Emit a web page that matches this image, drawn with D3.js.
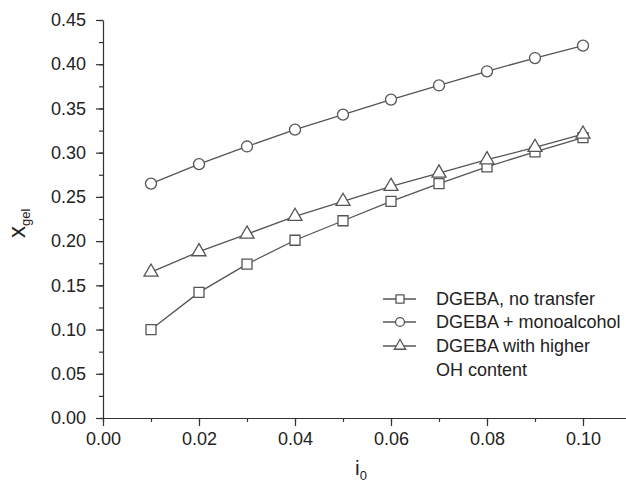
<!DOCTYPE html>
<html>
<head>
    <meta charset="utf-8" />
    <style>
        body { margin: 0; background: #fff; }
        svg { display: block; font-family: "Liberation Sans", Arial, sans-serif; }
    </style>
    <script src="https://d3js.org/d3.v7.min.js"></script>
</head>
<body>
<svg id="chart"></svg>
<script>

// data
let xValues = [0.01, 0.02, 0.03, 0.04, 0.05, 0.06, 0.07, 0.08, 0.09, 0.10];
let noTransfer = [0.100, 0.142, 0.174, 0.201, 0.223, 0.245, 0.265, 0.284, 0.301, 0.317];
let monoalcohol = [0.265, 0.287, 0.307, 0.326, 0.343, 0.360, 0.376, 0.392, 0.407, 0.421];
let higherOH = [0.165, 0.188, 0.208, 0.228, 0.245, 0.262, 0.277, 0.292, 0.306, 0.321];

let xTicks = [0.00, 0.02, 0.04, 0.06, 0.08, 0.10];
let yTicks = [0.00, 0.05, 0.10, 0.15, 0.20, 0.25, 0.30, 0.35, 0.40, 0.45];

let seriesNames = ["DGEBA, no transfer", "DGEBA + monoalcohol", "DGEBA with higher"];
let seriesValues = [noTransfer, monoalcohol, higherOH];
let seriesSymbols = ["square", "circle", "triangle"];

let W = 626, H = 485;
let lineColor = "#555";

let svg = d3.select("#chart").attr("width", W).attr("height", H);

let x = d3.scaleLinear().domain([0, 0.11]).range([103, 631]);
let y = d3.scaleLinear().domain([0, 0.45]).range([418, 20]);

/* axes */

let xMinor = d3.range(0, 0.11, 0.01);
let yMinor = d3.range(0, 0.451, 0.025);

svg.append("g")
    .attr("transform", "translate(0," + y(0) + ")")
    .call(d3.axisBottom(x).tickValues(xMinor).tickSize(4).tickFormat(""))
    .call(g => g.select(".domain").remove());

svg.append("g")
    .attr("transform", "translate(" + x(0) + ",0)")
    .call(d3.axisLeft(y).tickValues(yMinor).tickSize(4).tickFormat(""))
    .call(g => g.select(".domain").remove());

let xAxis = svg.append("g")
    .attr("transform", "translate(0," + y(0) + ")")
    .call(d3.axisBottom(x).tickValues(xTicks).tickSize(8).tickSizeOuter(0)
        .tickPadding(6).tickFormat(d3.format(".2f")));

let yAxis = svg.append("g")
    .attr("transform", "translate(" + x(0) + ",0)")
    .call(d3.axisLeft(y).tickValues(yTicks).tickSize(7).tickSizeOuter(0)
        .tickPadding(10).tickFormat(d3.format(".2f")));

svg.selectAll(".tick text")
    .attr("font-size", 18)
    .attr("font-family", "Liberation Sans, Arial, sans-serif")
    .attr("fill", "#222");
svg.selectAll(".domain, .tick line").attr("stroke", "#333").attr("stroke-width", 1.2);

// axis titles
let yTitle = svg.append("text")
    .attr("transform", "translate(25," + 238 + ") rotate(-90)")
    .attr("font-size", 24)
    .attr("fill", "#222");
yTitle.append("tspan").text("x");
yTitle.append("tspan").attr("font-size", 13).attr("dy", 5).text("gel");

let xTitle = svg.append("text")
    .attr("x", 355).attr("y", 475)
    .attr("font-size", 21)
    .attr("fill", "#222");
xTitle.append("tspan").text("i");
xTitle.append("tspan").attr("font-size", 13).attr("dy", 5).text("0");

/* series */

let line = d3.line()
    .x((d, i) => x(xValues[i]))
    .y(d => y(d));

let symbolSize = { square: 100, circle: 95, triangle: 85 };
let symbolType = { square: d3.symbolSquare, circle: d3.symbolCircle, triangle: d3.symbolTriangle };

seriesValues.forEach((vals, s) => {
    svg.append("path")
        .datum(vals)
        .attr("d", line)
        .attr("fill", "none")
        .attr("stroke", lineColor)
        .attr("stroke-width", 1.3);
});

seriesValues.forEach((vals, s) => {
    let sym = seriesSymbols[s];
    svg.append("g")
        .selectAll("path")
        .data(vals)
        .enter()
        .append("path")
        .attr("transform", (d, i) => "translate(" + x(xValues[i]) + "," + y(d) + ")")
        .attr("d", d3.symbol().type(symbolType[sym]).size(symbolSize[sym]))
        .attr("fill", "#fff")
        .attr("stroke", lineColor)
        .attr("stroke-width", 1.3);
});

/* legend */

let legendRows = [299, 322, 346];
let legend = svg.append("g");

seriesNames.forEach((name, s) => {
    let sym = seriesSymbols[s];
    let ly = legendRows[s];
    legend.append("line")
        .attr("x1", 383).attr("x2", 416)
        .attr("y1", ly).attr("y2", ly)
        .attr("stroke", lineColor).attr("stroke-width", 1.3);
    legend.append("path")
        .attr("transform", "translate(400," + ly + ")")
        .attr("d", d3.symbol().type(symbolType[sym]).size(symbolSize[sym] * 0.65))
        .attr("fill", "#fff")
        .attr("stroke", lineColor)
        .attr("stroke-width", 1.3);
    legend.append("text")
        .attr("x", 436).attr("y", ly + 6)
        .attr("font-size", 18)
        .attr("fill", "#222")
        .text(name);
});
legend.append("text")
    .attr("x", 436).attr("y", 376)
    .attr("font-size", 18)
    .attr("fill", "#222")
    .text("OH content");

</script>
</body>
</html>
